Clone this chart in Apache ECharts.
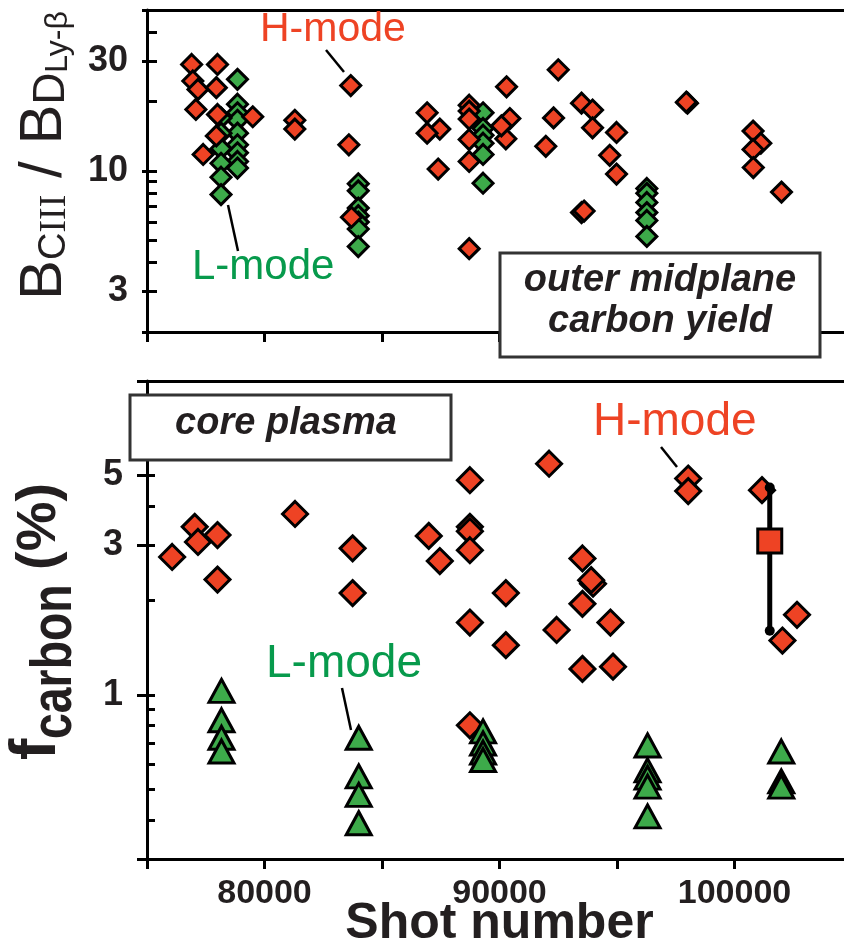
<!DOCTYPE html>
<html>
<head>
<meta charset="utf-8">
<script src="https://cdn.jsdelivr.net/npm/echarts@6/dist/echarts.min.js"></script>
<style>
  html, body { margin: 0; padding: 0; background: #fff; }
  #chart { width: 844px; height: 949px; }
</style>
</head>
<body>
<div id="chart"></div>
<script>
// ---- Outer midplane carbon yield (B_CIII / B_D Ly-beta) ----
const yieldHShots = [76900, 78000, 76950, 77170, 77950, 77080, 78000, 79500, 77950, 77390,
  81290, 81290, 83670, 83590, 83700, 86920, 87460, 86920, 87390,
  88710, 88710, 88710, 88710, 88710, 88710, 90300, 90440, 90270, 90080,
  92500, 92300, 91970, 93490, 93960, 93960, 94980, 94690, 94980, 93490, 93600,
  98000, 97950, 100790, 101120, 100790, 100800, 102000];
const yieldHValues = [29.0, 29.0, 24.6, 22.6, 23.0, 18.5, 17.6, 17.2, 14.2, 11.8,
  16.6, 15.2, 23.5, 13.0, 6.3, 17.9, 15.2, 14.6, 10.2,
  19.3, 18.2, 16.8, 13.7, 11.0, 4.6, 23.2, 16.9, 13.8, 15.7,
  27.5, 17.0, 12.8, 19.7, 18.4, 15.4, 14.7, 11.7, 9.7, 6.6, 6.7,
  19.7, 19.9, 14.9, 13.2, 12.4, 10.35, 8.1];

const yieldLShots = [78850, 78850, 78850, 78850, 78850, 78850, 78850, 78850, 78850,
  78150, 78150, 78150, 78150, 78150, 78150,
  83990, 83990, 83990, 83990, 83990, 83990, 83990,
  89300, 89300, 89300, 89300, 89300, 89300,
  96270, 96270, 96270, 96270, 96270, 96270];
const yieldLValues = [25.0, 19.5, 17.9, 16.6, 14.6, 13.0, 12.0, 11.0, 10.3,
  17.0, 14.6, 12.5, 10.8, 9.4, 7.9,
  8.8, 8.2, 6.9, 6.4, 6.0, 5.6, 4.7,
  17.9, 15.3, 14.3, 13.2, 11.8, 8.85,
  8.4, 8.0, 7.3, 6.6, 6.1, 5.2];

// ---- Core plasma carbon fraction (%) ----
const coreHShots = [76070, 77030, 77170, 78000, 78000, 81300, 83750, 83750, 86990, 87460,
  88740, 88740, 88740, 88740, 88740, 88740, 90270, 90270, 92110, 92430,
  93530, 93980, 93900, 93530, 94720, 93530, 94830, 98030, 98030, 101170,
  102660, 102040];
const coreHValues = [2.75, 3.43, 3.07, 3.23, 2.33, 3.77, 2.93, 2.11, 3.21, 2.67,
  4.83, 3.43, 3.32, 2.89, 1.70, 0.80, 2.11, 1.44, 5.45, 1.61,
  2.72, 2.26, 2.32, 1.95, 1.70, 1.21, 1.23, 4.89, 4.46, 4.49,
  1.80, 1.49];

const coreLShots = [78170, 78170, 78170, 78170, 84010, 84010, 84010, 84010,
  89300, 89300, 89300, 89300, 96300, 96300, 96300, 96300, 96300,
  101990, 101990, 101990];
const coreLValues = [1.03, 0.83, 0.73, 0.66, 0.73, 0.55, 0.48, 0.39,
  0.765, 0.70, 0.655, 0.62, 0.69, 0.575, 0.545, 0.51, 0.41,
  0.66, 0.53, 0.51];

// averaged H-mode value with its spread
const avgShot = [101500];
const avgValue = [3.09];
const avgLow = [1.60];
const avgHigh = [4.58];

// ---- axis ticks and labels ----
const shotMin = 75000, shotMax = 105000, shotStep = 5000;
const yieldRange = [2, 50];
const yieldLabels = [3, 10, 30];
const yieldTicks = [2, 3, 4, 5, 6, 7, 8, 9, 10, 20, 30, 40, 50];
const coreRange = [0.3, 10];
const coreLabels = [1, 3, 5];
const coreTicks = [0.3, 0.4, 0.5, 0.6, 0.7, 0.8, 0.9, 1, 2, 3, 4, 5, 6, 7, 8, 9, 10];

const RED = '#EE4324';
const GREEN = '#3DAA4A';
const TEXT_GREEN = '#079A4C';
const INK = '#231F20';
const SANS = '"Liberation Sans", Arial, Helvetica, sans-serif';
const SERIF = '"Liberation Serif", "Times New Roman", serif';

const zip = (xs, ys) => xs.map((x, i) => [x, ys[i]]);

const chart = echarts.init(document.getElementById('chart'), null, { renderer: 'canvas' });

const axisLineStyle = { color: '#000', width: 3 };

function shotAxis(gridIndex, withLabels) {
  return {
    type: 'value', gridIndex, position: 'bottom',
    min: shotMin, max: shotMax, interval: shotStep,
    axisLine: { show: true, onZero: false, lineStyle: axisLineStyle },
    axisTick: { show: true, inside: false, length: 10, lineStyle: { color: '#000', width: 3 } },
    splitLine: { show: false },
    axisLabel: withLabels ? {
      show: true, margin: 18, fontSize: 34, fontWeight: 'bold', fontFamily: SANS, color: INK,
      formatter: v => (v % 10000 === 0 ? String(v) : '')
    } : { show: false },
    name: withLabels ? 'Shot number' : '',
    nameLocation: 'middle', nameGap: 40, nameMoveOverlap: false,
    nameTextStyle: { fontSize: 50, fontWeight: 'bold', fontFamily: SANS, color: INK }
  };
}
function frameAxis(gridIndex) {
  return {
    type: 'value', gridIndex, position: 'top', min: shotMin, max: shotMax,
    axisLine: { show: true, onZero: false, lineStyle: axisLineStyle },
    axisTick: { show: false }, axisLabel: { show: false }, splitLine: { show: false }
  };
}
function logAxis(gridIndex, range, ticks, labels, innerLen, labelMargin) {
  return {
    type: 'log', logBase: 10, gridIndex, position: 'left',
    min: range[0], max: range[1],
    axisLine: { show: true, onZero: false, lineStyle: axisLineStyle },
    axisTick: { show: true, inside: true, length: innerLen, customValues: ticks,
      lineStyle: { color: '#000', width: 3 } },
    minorTick: { show: false },
    splitLine: { show: false },
    axisLabel: { show: true, customValues: labels, margin: labelMargin, fontSize: 36,
      fontWeight: 'bold', fontFamily: SANS, color: INK }
  };
}
function outerTickAxis(gridIndex, range, ticks, len) {
  return {
    type: 'log', logBase: 10, gridIndex, position: 'left',
    min: range[0], max: range[1],
    axisLine: { show: false },
    axisTick: { show: true, inside: false, length: len, customValues: ticks,
      lineStyle: { color: '#000', width: 3 } },
    axisLabel: { show: false }, splitLine: { show: false }
  };
}

const diamondTop = (color) => ({
  type: 'scatter', symbol: 'diamond', symbolSize: 20,
  itemStyle: { color, borderColor: '#000', borderWidth: 3, opacity: 1 }
});

const option = {
  backgroundColor: '#fff',
  animation: false,
  grid: [
    { left: 147, top: 10, right: -8, height: 322, outerBoundsMode: 'none', containLabel: false },
    { left: 147, top: 381, right: -8, height: 478, outerBoundsMode: 'none', containLabel: false }
  ],
  xAxis: [shotAxis(0, false), frameAxis(0), shotAxis(1, true), frameAxis(1)],
  yAxis: [
    logAxis(0, yieldRange, yieldTicks, yieldLabels, 10, 19),
    outerTickAxis(0, yieldRange, [2, 3, 10, 30, 50], 5),
    logAxis(1, coreRange, coreTicks, coreLabels, 8, 24),
    outerTickAxis(1, coreRange, [0.3, 1, 3, 5, 10], 10)
  ],
  series: [
    Object.assign(diamondTop(GREEN), { name: 'L-mode yield', xAxisIndex: 0, yAxisIndex: 0,
      data: zip(yieldLShots, yieldLValues), z: 3 }),
    Object.assign(diamondTop(RED), { name: 'H-mode yield', xAxisIndex: 0, yAxisIndex: 0,
      data: zip(yieldHShots, yieldHValues), z: 4 }),
    {
      name: 'H-mode core', type: 'scatter', xAxisIndex: 2, yAxisIndex: 2,
      symbol: 'diamond', symbolSize: 25, z: 3,
      itemStyle: { color: RED, borderColor: '#000', borderWidth: 3, opacity: 1 },
      data: zip(coreHShots, coreHValues)
    },
    {
      name: 'L-mode core', type: 'scatter', xAxisIndex: 2, yAxisIndex: 2,
      symbol: 'triangle', symbolSize: [25, 23], z: 4,
      itemStyle: { color: GREEN, borderColor: '#000', borderWidth: 3, opacity: 1 },
      data: zip(coreLShots, coreLValues)
    },
    {
      name: 'H-mode spread', type: 'line', xAxisIndex: 2, yAxisIndex: 2, z: 5,
      symbol: 'circle', symbolSize: 10, showSymbol: true,
      lineStyle: { color: '#000', width: 5 },
      itemStyle: { color: '#000', borderWidth: 0, opacity: 1 },
      data: [[avgShot[0], avgLow[0]], [avgShot[0], avgHigh[0]]]
    },
    {
      name: 'H-mode average', type: 'scatter', xAxisIndex: 2, yAxisIndex: 2, z: 6,
      symbol: 'rect', symbolSize: 24,
      itemStyle: { color: RED, borderColor: '#000', borderWidth: 3, opacity: 1 },
      data: zip(avgShot, avgValue)
    }
  ],
  graphic: [
    // panel captions
    { type: 'rect', z: 100, shape: { x: 500, y: 253, width: 320, height: 104 },
      style: { fill: '#fff', stroke: '#333', lineWidth: 3 } },
    { type: 'text', z: 101, x: 660, y: 281,
      style: { text: 'outer midplane', fontSize: 38, fontWeight: 'bold', fontStyle: 'italic',
        fontFamily: SANS, fill: INK, align: 'center', verticalAlign: 'middle' } },
    { type: 'text', z: 101, x: 660, y: 322,
      style: { text: 'carbon yield', fontSize: 38, fontWeight: 'bold', fontStyle: 'italic',
        fontFamily: SANS, fill: INK, align: 'center', verticalAlign: 'middle' } },
    { type: 'rect', z: 100, shape: { x: 130, y: 395, width: 321, height: 65 },
      style: { fill: '#fff', stroke: '#333', lineWidth: 3 } },
    { type: 'text', z: 101, x: 286, y: 424,
      style: { text: 'core plasma', fontSize: 38, fontWeight: 'bold', fontStyle: 'italic',
        fontFamily: SANS, fill: INK, align: 'center', verticalAlign: 'middle' } },

    // mode annotations with leader lines
    { type: 'text', z: 101, x: 260, y: 30,
      style: { text: 'H-mode', fontSize: 41, fontFamily: SANS, fill: RED, verticalAlign: 'middle' } },
    { type: 'line', z: 101, shape: { x1: 326, y1: 50, x2: 344, y2: 72 },
      style: { stroke: '#000', lineWidth: 2.5 } },
    { type: 'text', z: 101, x: 192, y: 267,
      style: { text: 'L-mode', fontSize: 42, fontFamily: SANS, fill: TEXT_GREEN, verticalAlign: 'middle' } },
    { type: 'line', z: 101, shape: { x1: 228, y1: 205, x2: 238, y2: 251 },
      style: { stroke: '#000', lineWidth: 2.5 } },
    { type: 'text', z: 101, x: 593, y: 422,
      style: { text: 'H-mode', fontSize: 46, fontFamily: SANS, fill: RED, verticalAlign: 'middle' } },
    { type: 'line', z: 101, shape: { x1: 661, y1: 447, x2: 677, y2: 467 },
      style: { stroke: '#000', lineWidth: 2.5 } },
    { type: 'text', z: 101, x: 266, y: 664,
      style: { text: 'L-mode', fontSize: 46, fontFamily: SANS, fill: TEXT_GREEN, verticalAlign: 'middle' } },
    { type: 'line', z: 101, shape: { x1: 342, y1: 688, x2: 351, y2: 730 },
      style: { stroke: '#000', lineWidth: 2.5 } },

    // y-axis titles, written bottom to top
    { type: 'group', x: 65, y: 300, rotation: Math.PI / 2, z: 101, children: [
      { type: 'text', x: 0, y: 9, style: {
        text: '{b|B}{c|C}{i|III}{b| / B}{d|D}{l|Ly-β}',
        align: 'left', verticalAlign: 'bottom',
        rich: {
          b: { fontSize: 60, lineHeight: 60, fontFamily: SANS, fill: INK, verticalAlign: 'bottom' },
          c: { fontSize: 38, lineHeight: 38, fontFamily: SANS, fill: INK, verticalAlign: 'bottom' },
          i: { fontSize: 38, lineHeight: 38, fontFamily: SERIF, fill: INK, verticalAlign: 'bottom' },
          d: { fontSize: 44, lineHeight: 44, fontFamily: SANS, fill: INK, verticalAlign: 'bottom' },
          l: { fontSize: 32, lineHeight: 32, fontFamily: SANS, fill: INK, verticalAlign: 'bottom' }
        }
      } }
    ] },
    { type: 'group', x: 60, y: 760, rotation: Math.PI / 2, z: 101, children: [
      { type: 'text', x: 0, y: 9, style: { text: 'f', fontSize: 64, fontWeight: 'bold',
        fontFamily: SANS, fill: INK, align: 'left', verticalAlign: 'bottom' } },
      { type: 'text', x: 21, y: 24, scaleX: 0.8, style: { text: 'carbon', fontSize: 58, fontWeight: 'bold',
        fontFamily: SANS, fill: INK, align: 'left', verticalAlign: 'bottom' } },
      { type: 'text', x: 190, y: 8, style: { text: '(%)', fontSize: 56, fontWeight: 'bold',
        fontFamily: SANS, fill: INK, align: 'left', verticalAlign: 'bottom' } }
    ] }
  ]
};

chart.setOption(option);
</script>
</body>
</html>
